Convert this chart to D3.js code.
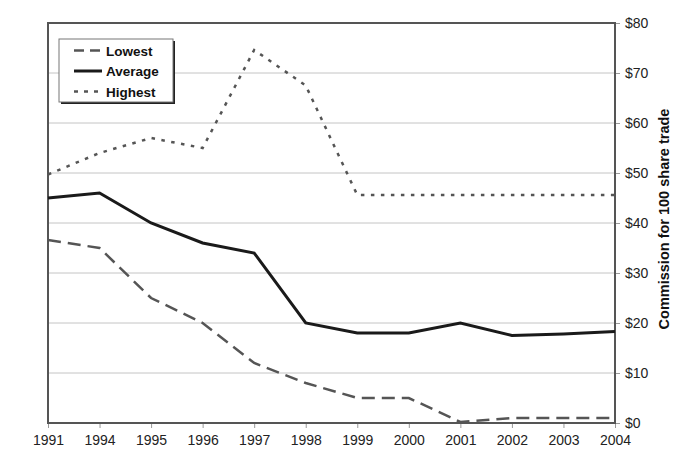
<!DOCTYPE html>
<html lang="en">
<head>
    <meta charset="UTF-8">
    <title>Commission for 100 share trade</title>
    <script src="https://d3js.org/d3.v7.min.js"></script>
    <style>
        body{ margin: 0; background: white; }
        svg text{ font-family: "Liberation Sans", Arial, sans-serif; }
        .tick text{ font-size: 14px; fill: #222; }
    </style>
</head>
<body>
<svg id="canvas" width="684" height="467"></svg>
<script>
    // data
    let years = ["1991","1994","1995","1996","1997","1998","1999","2000","2001","2002","2003","2004"];
    let lowest  = [36.6, 35, 25, 20, 12, 8, 5, 5, 0.2, 1, 1, 1];
    let average = [45, 46, 40, 36, 34, 20, 18, 18, 20, 17.5, 17.8, 18.3];
    let highest = [49.7, 54, 57, 55, 74.6, 67.5, 45.6, 45.6, 45.6, 45.6, 45.6, 45.6];
    let yTicks = [0, 10, 20, 30, 40, 50, 60, 70, 80];
    let seriesNames = ["Lowest", "Average", "Highest"];

    let svg = d3.select('#canvas');
    let plotLeft = 48, plotRight = 615, plotTop = 23, plotBottom = 423;

    let xscale = d3.scalePoint().domain(years).range([plotLeft, plotRight]);
    let yscale = d3.scaleLinear().domain([0, 80]).range([plotBottom, plotTop]);

    // gridlines
    svg.append('g').selectAll('line')
        .data(yTicks.filter(d => d > 0 && d < 80))
        .enter().append('line')
        .attr('x1', plotLeft).attr('x2', plotRight)
        .attr('y1', d => yscale(d)).attr('y2', d => yscale(d))
        .attr('stroke', '#c4c4c4').attr('stroke-width', 1);

    // bottom axis
    let xAxis = svg.append('g').attr('transform', `translate(0,${plotBottom})`)
        .call(d3.axisBottom(xscale).tickSize(5).tickPadding(7));
    xAxis.select('.domain').remove();
    xAxis.selectAll('.tick line').attr('stroke', '#999');

    // right axis
    let yAxis = svg.append('g').attr('transform', `translate(${plotRight},0)`)
        .call(d3.axisRight(yscale).tickValues(yTicks).tickSize(5).tickPadding(5)
            .tickFormat(d => '$' + d));
    yAxis.select('.domain').remove();
    yAxis.selectAll('.tick line').attr('stroke', '#999');

    // frame
    svg.append('rect')
        .attr('x', plotLeft).attr('y', plotTop)
        .attr('width', plotRight - plotLeft).attr('height', plotBottom - plotTop)
        .attr('fill', 'none').attr('stroke', '#555').attr('stroke-width', 2);

    let styles = {
        "Lowest":  {data: lowest,  color: '#555', width: 2.5, dash: '13,7'},
        "Average": {data: average, color: '#1a1a1a', width: 3, dash: null},
        "Highest": {data: highest, color: '#555', width: 2.5, dash: '3.5,6.5'}
    };

    let line_generator = d3.line()
        .x((d, i) => xscale(years[i]))
        .y(d => yscale(d));

    seriesNames.forEach(function (name) {
        let s = styles[name];
        svg.append('path')
            .datum(s.data)
            .attr('d', line_generator)
            .attr('fill', 'none')
            .attr('stroke', s.color)
            .attr('stroke-width', s.width)
            .attr('stroke-dasharray', s.dash);
    });

    // legend
    let legend = svg.append('g').attr('transform', 'translate(59,39)');
    legend.append('rect').attr('x', 2).attr('y', 2).attr('width', 114).attr('height', 63).attr('fill', '#222');
    legend.append('rect').attr('x', 0).attr('y', 0).attr('width', 114).attr('height', 63)
        .attr('fill', 'white').attr('stroke', '#777').attr('stroke-width', 1);
    seriesNames.forEach(function (name, i) {
        let s = styles[name];
        let yy = 11.5 + i * 20.5;
        legend.append('line')
            .attr('x1', 15).attr('x2', 43).attr('y1', yy).attr('y2', yy)
            .attr('stroke', s.color).attr('stroke-width', s.width)
            .attr('stroke-dasharray', name === "Lowest" ? '10,6' : (name === "Highest" ? '4,6' : null));
        legend.append('text')
            .attr('x', 47).attr('y', yy + 5)
            .style('font-size', '13.5px').style('font-weight', 'bold').attr('fill', '#111')
            .text(name);
    });

    // axis title
    svg.append('text')
        .attr('transform', `translate(669,219) rotate(-90)`)
        .attr('text-anchor', 'middle')
        .style('font-size', '14.5px').style('font-weight', 'bold').attr('fill', '#111')
        .text('Commission for 100 share trade');
</script>
</body>
</html>
